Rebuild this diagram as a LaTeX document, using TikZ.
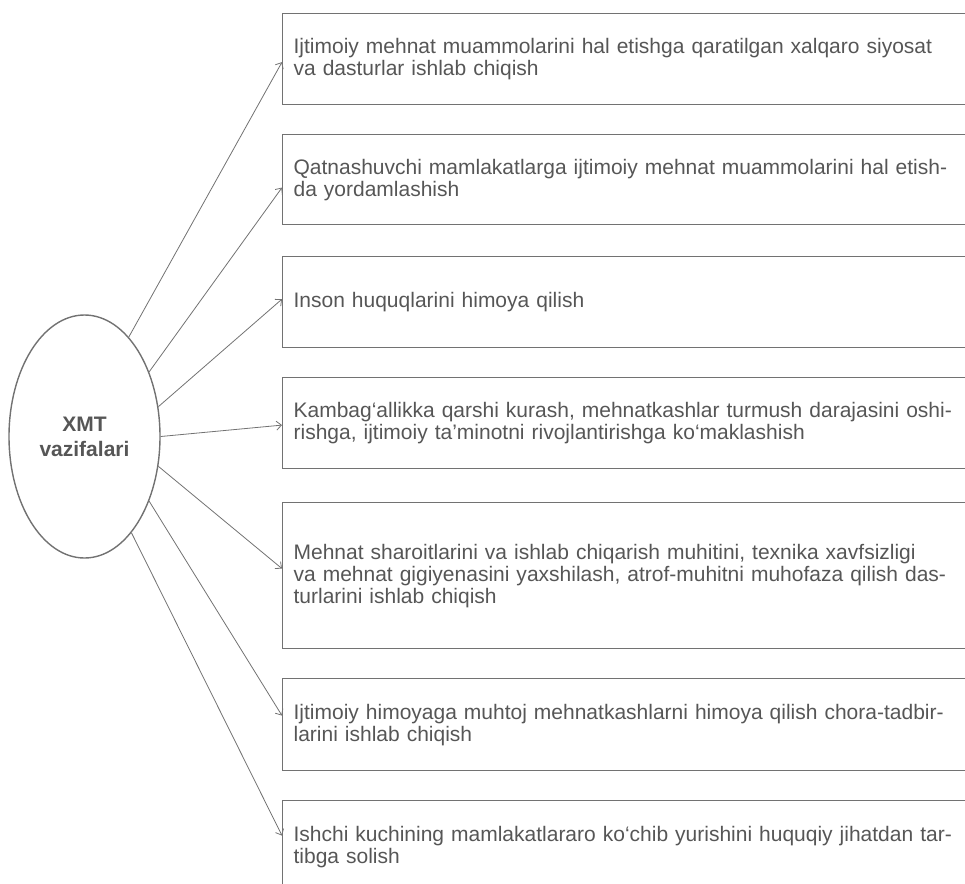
\documentclass[tikz,border=0pt]{standalone}
\usepackage{fontspec}
\setmainfont{Liberation Sans}
\usetikzlibrary{positioning}
\usetikzlibrary{shapes.geometric}
\usetikzlibrary{arrows.meta}
\definecolor{inkgray}{HTML}{565656}
\definecolor{linegray}{HTML}{727272}

\begin{document}
\begin{tikzpicture}[x=1pt, y=-1pt,
    task/.style={draw=linegray, line width=1.2pt, anchor=north west, text width=680pt, align=left, inner xsep=11pt, text=inkgray, font=\fontsize{21}{22}\selectfont},
    link/.style={draw=linegray, line width=0.8pt, -{Straight Barb[length=5pt, width=9pt]}}]
    % Frame
    \useasboundingbox (0,0) rectangle (965,883);
    \clip (0,0) rectangle (965,883);

    % Centre
    \node[ellipse, draw=linegray, line width=1.4pt, minimum width=151pt, minimum height=243pt, inner sep=0pt, align=center, text=inkgray, font=\bfseries\fontsize{21}{25}\selectfont] (xmt) at (84.5,436.5) {XMT\\vazifalari};

    % Tasks
    \node[task, minimum height=91pt] (t1) at (282,13) {Ijtimoiy mehnat muammolarini hal etishga qaratilgan xalqaro siyosat\\va dasturlar ishlab chiqish};
    \node[task, minimum height=90pt] (t2) at (282,134) {Qatnashuvchi mamlakatlarga ijtimoiy mehnat muammolarini hal etish-\\da yordamlashish};
    \node[task, minimum height=91pt] (t3) at (282,256) {Inson huquqlarini himoya qilish};
    \node[task, minimum height=91pt] (t4) at (282,377) {Kambag‘allikka qarshi kurash, mehnatkashlar turmush darajasini oshi-\\rishga, ijtimoiy ta’minotni rivojlantirishga ko‘maklashish};
    \node[task, minimum height=146pt] (t5) at (282,502) {Mehnat sharoitlarini va ishlab chiqarish muhitini, texnika xavfsizligi\\va mehnat gigiyenasini yaxshilash, atrof-muhitni muhofaza qilish das-\\turlarini ishlab chiqish};
    \node[task, minimum height=92pt] (t6) at (282,678) {Ijtimoiy himoyaga muhtoj mehnatkashlarni himoya qilish chora-tadbir-\\larini ishlab chiqish};
    \node[task, minimum height=92pt] (t7) at (282,800) {Ishchi kuchining mamlakatlararo ko‘chib yurishini huquqiy jihatdan tar-\\tibga solish};

    % Arrows
    \draw[link] (xmt.66) -- ([yshift=-3pt]t1.west);
    \draw[link] (xmt.45) -- ([yshift=-8pt]t2.west);
    \draw[link] (xmt.22) -- ([yshift=3pt]t3.west);
    \draw[link] (xmt.0) -- ([yshift=-2pt]t4.west);
    \draw[link] (xmt.-22) -- ([yshift=7pt]t5.west);
    \draw[link] (xmt.-45) -- ([yshift=9pt]t6.west);
    \draw[link] (xmt.-64) -- ([yshift=11pt]t7.west);
\end{tikzpicture}
\end{document}
